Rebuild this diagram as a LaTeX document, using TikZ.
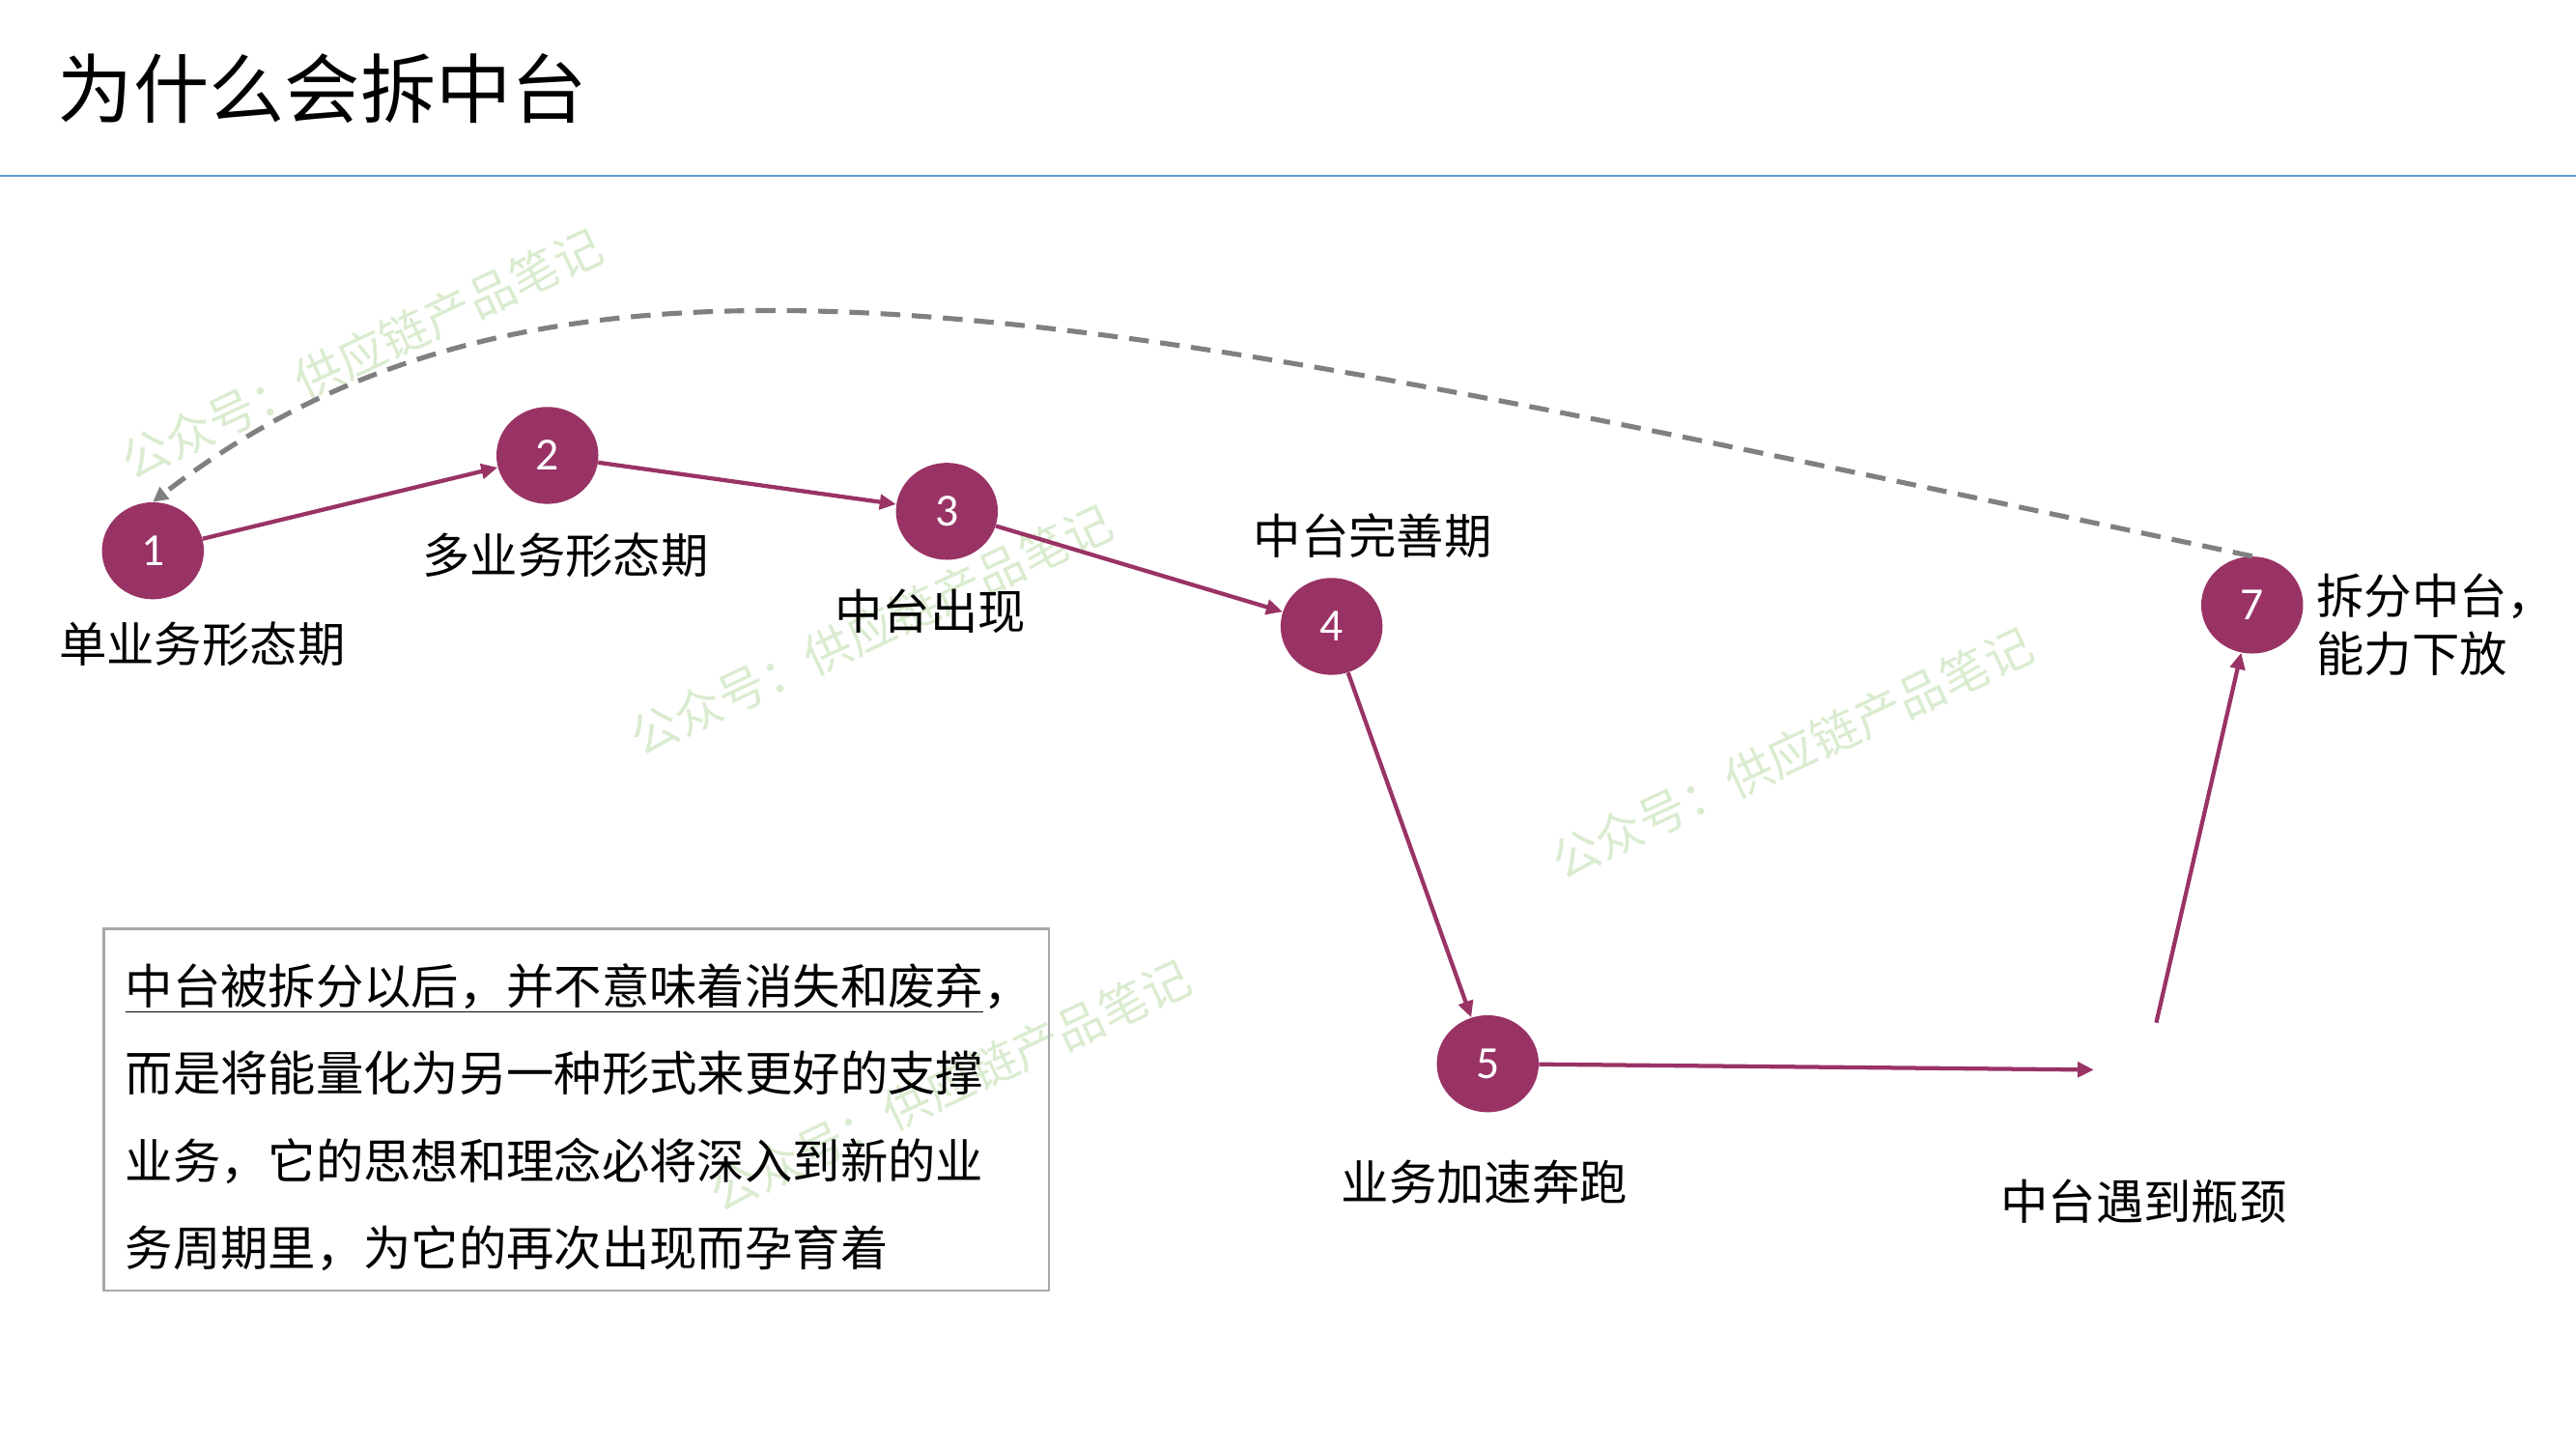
\documentclass[tikz,border=0pt]{standalone}
\usepackage{fontspec}
\setmainfont{Carlito}
\newfontfamily\cjk{Noto Sans CJK SC}
\definecolor{stagepurple}{RGB}{153, 51, 102}
\definecolor{ruleblue}{RGB}{102, 153, 214}
\definecolor{markgreen}{RGB}{218, 236, 208}
\definecolor{boxgray}{RGB}{168, 168, 168}
\definecolor{loopgray}{RGB}{128, 128, 128}
\usetikzlibrary{shapes.geometric, arrows.meta, positioning}

\tikzset{
  stage/.style={ellipse, fill=stagepurple, minimum width=62pt, minimum height=59pt, inner sep=0pt,
    text=white, font=\fontsize{28}{28}\selectfont},
  stagelabel/.style={inner sep=0pt, font=\cjk\fontsize{29}{35.5}\selectfont},
  flow/.style={draw=stagepurple, line width=2.5pt, -{Triangle[length=10pt, width=9pt]}},
  watermark/.style={rotate=25, text=markgreen, inner sep=0pt, font=\cjk\fontsize{29}{29}\selectfont}
}

\begin{document}
\begin{tikzpicture}[x=1pt, y=-1pt]
  \useasboundingbox (0, 0) rectangle (1567, 881.3);

  % watermarks, behind everything
  \node[watermark] (wm1) at (220, 215) {公众号：供应链产品笔记};
  \node[watermark] (wm2) at (530, 383) {公众号：供应链产品笔记};
  \node[watermark] (wm3) at (1090, 458) {公众号：供应链产品笔记};
  \node[watermark] (wm4) at (578, 660) {公众号：供应链产品笔记};

  % title and rule
  \node[anchor=west, inner sep=0pt, font=\cjk\fontsize{46}{46}\selectfont] (title) at (35, 54) {为什么会拆中台};
  \coordinate (ruleL) at (0, 107);
  \coordinate (ruleR) at (1567, 107);
  \draw[ruleblue, line width=1.5pt] (ruleL) -- (ruleR);

  % stages
  \node[stage] (n1) at (93, 335) {1};
  \node[stage] (n2) at (333, 277) {2};
  \node[stage] (n3) at (576, 311) {3};
  \node[stage] (n4) at (810, 381) {4};
  \node[stage] (n5) at (905, 647) {5};
  \node[stage, fill=none] (n6) at (1305, 651) {};
  \node[stage] (n7) at (1370, 368) {7};

  \node[stagelabel] (l1) at (123, 392) {单业务形态期};
  \node[stagelabel] (l2) at (344, 338) {多业务形态期};
  \node[stagelabel] (l3) at (566, 372) {中台出现};
  \node[stagelabel] (l4) at (835, 326) {中台完善期};
  \node[stagelabel] (l5) at (903, 719) {业务加速奔跑};
  \node[stagelabel] (l6) at (1304, 731) {中台遇到瓶颈};
  \node[stagelabel, anchor=west, align=left] (l7) at (1409, 380) {拆分中台，\\能力下放};

  \draw[flow] (n1) -- (n2);
  \draw[flow] (n2) -- (n3);
  \draw[flow] (n3) -- (n4);
  \draw[flow] (n4) -- (n5);
  \draw[flow] (n5) -- (n6);
  \draw[flow] (n6) -- (n7);

  % back to the start
  \draw[loopgray, line width=3pt, dash pattern=on 12pt off 7pt, -{Triangle[length=9pt, width=9pt]}]
    (n7.north) .. controls (670, 191) and (346, 110) .. (n1.north);

  % note
  \node[draw=boxgray, line width=1.5pt, minimum width=575pt, minimum height=220pt] (note) at (350.5, 675) {};
  \node[anchor=north west, inner sep=0pt, align=left, font=\cjk\fontsize{29}{53}\selectfont] (notetext) at (76, 586) {
    \underline{中台被拆分以后，并不意味着消失和废弃}，\\
    而是将能量化为另一种形式来更好的支撑\\
    业务，它的思想和理念必将深入到新的业\\
    务周期里，为它的再次出现而孕育着};
\end{tikzpicture}
\end{document}
